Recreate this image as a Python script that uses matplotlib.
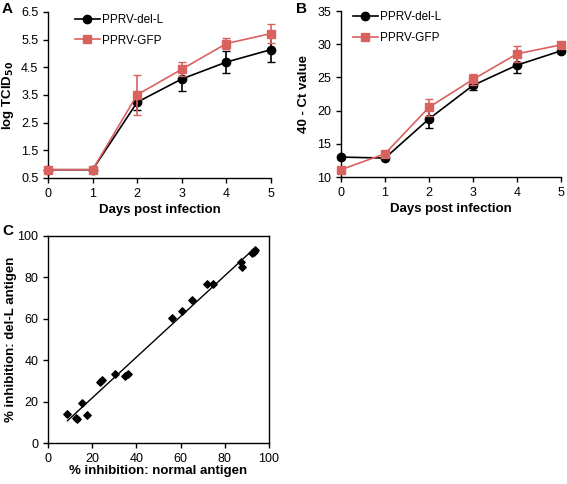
"""Growth curves of PPRV-del-L vs PPRV-GFP and cELISA antigen comparison."""
import matplotlib
matplotlib.use("Agg")
import matplotlib.pyplot as plt
from matplotlib.lines import Line2D
import numpy as np

plt.rcParams["font.family"] = ["Liberation Sans", "DejaVu Sans"]

days = [0, 1, 2, 3, 4, 5]

# panel A: log TCID50
tcid_del = [0.8, 0.8, 3.24, 4.08, 4.69, 5.14]
tcid_del_err = [0, 0, 0.3, 0.45, 0.4, 0.45]
tcid_gfp = [0.8, 0.8, 3.51, 4.43, 5.36, 5.72]
tcid_gfp_err = [0, 0, 0.72, 0.25, 0.2, 0.35]

# panel B: 40 - Ct value
ct_del = [13.0, 12.85, 18.75, 23.8, 26.85, 29.0]
ct_del_err = [0, 0, 1.3, 0.75, 1.15, 0.3]
ct_gfp = [11.1, 13.5, 20.5, 24.7, 28.55, 29.9]
ct_gfp_err = [0, 0, 1.3, 0.8, 1.2, 0.25]

# panel C: % inhibition
normal_ag = [8.8, 12.5, 13.1, 15.4, 17.7, 23.7, 24.6, 30.5, 34.9, 36.1,
             56.3, 60.7, 65.0, 71.8, 74.5, 87.3, 87.6, 92.1, 93.2, 93.8]
del_l_ag = [14.0, 12.1, 11.6, 19.1, 13.3, 29.6, 30.2, 33.4, 32.2, 33.4,
            60.6, 63.8, 69.1, 76.8, 76.8, 87.3, 85.2, 91.6, 92.3, 93.2]

RED = "#D9625F"
W, H = 567, 484
TICK_FS = 9
LABEL_FS = 9.5


def px_axes(fig, left, top, right, bottom):
    return fig.add_axes([left / W, 1 - bottom / H, (right - left) / W, (bottom - top) / H])


def style(ax):
    for s in ["top", "right"]:
        ax.spines[s].set_visible(False)
    for s in ["left", "bottom"]:
        ax.spines[s].set_linewidth(1.0)
    ax.tick_params(labelsize=TICK_FS, width=1.0, length=3.5, direction="out")


def growth(ax, y1, e1, y2, e2, leg_x, leg_y):
    ax.errorbar(days, y1, yerr=e1, color="black", marker="o", markersize=6,
                linewidth=1.2, capsize=2.7, elinewidth=1.2,
                clip_on=False, zorder=3)
    ax.errorbar(days, y2, yerr=e2, color=RED, marker="s", markersize=5.5,
                linewidth=1.2, capsize=2.7, elinewidth=1.2,
                clip_on=False, zorder=4)
    ax.set_xlim(0, 5)
    ax.set_xticks(days)
    ax.set_xlabel("Days post infection", fontsize=LABEL_FS, fontweight="bold", labelpad=3)
    handles = [
        Line2D([], [], color="black", marker="o", markersize=6, linewidth=1.2, label="PPRV-del-L"),
        Line2D([], [], color=RED, marker="s", markersize=5.5, linewidth=1.2, label="PPRV-GFP"),
    ]
    ax.legend(handles=handles, loc="upper left", bbox_to_anchor=(leg_x, leg_y), frameon=False,
              fontsize=8.5, handlelength=2.1, handletextpad=0.2, labelspacing=0.75,
              borderpad=0, borderaxespad=0)


fig = plt.figure(figsize=(W / 100, H / 100), dpi=100)

ax = px_axes(fig, 48, 12, 271, 178)
style(ax)
growth(ax, tcid_del, tcid_del_err, tcid_gfp, tcid_gfp_err, 0.12, 0.99)
ax.set_ylim(0.5, 6.5)
ax.set_yticks(np.arange(0.5, 6.6, 1.0))
ax.set_yticklabels(["0.5", "1.5", "2.5", "3.5", "4.5", "5.5", "6.5"])
ax.set_ylabel("log TCID$_{\\mathbf{50}}$", fontsize=LABEL_FS, fontweight="bold")
ax.yaxis.set_label_coords(-0.145, 0.5)
fig.text(2 / W, 1 - 13 / H, "A", fontsize=11, fontweight="bold")

ax = px_axes(fig, 341, 11, 561, 177)
style(ax)
growth(ax, ct_del, ct_del_err, ct_gfp, ct_gfp_err, 0.055, 1.0)
ax.set_ylim(10, 35)
ax.set_yticks(range(10, 36, 5))
ax.set_ylabel("40 - Ct value", fontsize=LABEL_FS, fontweight="bold")
ax.yaxis.set_label_coords(-0.14, 0.5)
fig.text(296 / W, 1 - 13 / H, "B", fontsize=11, fontweight="bold")

ax = px_axes(fig, 48, 236, 269, 443)
for s in ax.spines.values():
    s.set_linewidth(1.0)
ax.tick_params(labelsize=TICK_FS, width=1.0, length=3.5, direction="out")
ax.scatter(normal_ag, del_l_ag, marker="D", s=14, color="black", zorder=3)
slope, icpt = np.polyfit(normal_ag, del_l_ag, 1)
xs = np.array([min(normal_ag), max(normal_ag)])
ax.plot(xs, slope * xs + icpt, color="black", linewidth=1.0)
ax.set_xlim(0, 100)
ax.set_ylim(0, 100)
ax.set_xticks(range(0, 101, 20))
ax.set_yticks(range(0, 101, 20))
ax.set_xlabel("% inhibition: normal antigen", fontsize=LABEL_FS, fontweight="bold", labelpad=0)
ax.set_ylabel("% inhibition: del-L antigen", fontsize=LABEL_FS, fontweight="bold")
ax.yaxis.set_label_coords(-0.14, 0.5)
fig.text(2 / W, 1 - 235 / H, "C", fontsize=11, fontweight="bold")

fig.savefig("out.png", dpi=100)
